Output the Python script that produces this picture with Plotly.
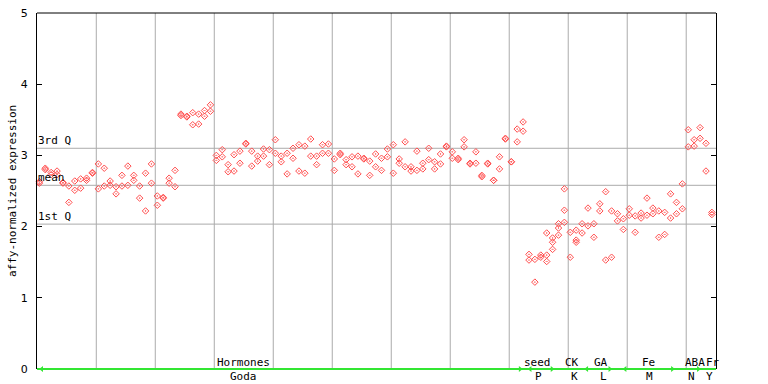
import plotly.graph_objects as go

# ---------------- data ----------------
values_a = [2.63, 2.82, 2.76, 2.78, 2.62, 2.57, 2.64, 2.67, 2.68, 2.76,
            2.88, 2.82, 2.64, 2.56, 2.72, 2.85, 2.72, 2.57, 2.75, 2.88,
            2.43, 2.41, 2.68, 2.79, 3.58, 3.55, 3.60, 3.58, 3.63, 3.71,
            3.00, 3.08, 2.87, 3.01, 3.06, 3.17, 3.06, 2.99, 3.09, 3.08,
            3.22, 2.99, 3.03, 3.10, 3.15, 3.13, 3.23, 2.99, 3.15, 3.16,
            2.95, 3.03, 2.94, 2.98, 2.99, 2.96, 2.92, 3.02, 2.96, 3.09,
            3.15, 2.95, 3.19, 2.84, 3.06, 2.89, 3.10, 2.91, 3.02, 3.13,
            3.05, 2.96, 3.22, 2.89, 3.05, 2.72, 2.89, 2.65, 2.98, 3.24,
            2.91, 3.37, 3.47, 1.61, 1.54, 1.60, 1.91, 1.84, 2.04, 2.53,
            1.92, 1.95, 2.04, 2.26, 2.04, 2.32, 2.49, 2.22, 2.18, 2.11,
            2.25, 2.15, 2.19, 2.40, 2.26, 2.22, 2.20, 2.46, 2.34, 2.60,
            3.36, 3.22, 3.39, 3.17, 2.20]
values_b = [2.61, 2.80, 2.73, 2.73, 2.61, 2.34, 2.51, 2.54, 2.65, 2.75,
            2.53, 2.57, 2.58, 2.46, 2.57, 2.58, 2.65, 2.40, 2.22, 2.61,
            2.30, 2.40, 2.61, 2.56, 3.56, 3.54, 3.43, 3.44, 3.55, 3.62,
            2.93, 2.98, 2.77, 2.78, 2.89, 3.16, 2.85, 2.92, 2.99, 2.87,
            3.03, 2.91, 2.74, 2.96, 2.78, 2.75, 2.99, 2.87, 3.03, 3.03,
            2.79, 3.01, 2.87, 2.84, 2.74, 2.95, 2.72, 2.84, 2.79, 2.98,
            2.75, 2.89, 2.84, 2.78, 2.79, 2.81, 2.94, 2.81, 2.88, 3.12,
            2.96, 2.94, 3.12, 2.88, 2.89, 2.70, 2.88, 2.65, 2.81, 3.23,
            2.91, 3.19, 3.34, 1.53, 1.22, 1.57, 1.51, 1.68, 1.88, 2.06,
            1.57, 1.78, 1.91, 2.01, 1.85, 2.22, 1.53, 1.57, 2.08, 1.96,
            2.16, 1.92, 2.12, 2.16, 2.18, 1.85, 1.89, 2.12, 2.18, 2.25,
            3.12, 3.13, 3.24, 2.78, 2.17]
extra_idx = [86, 87, 88, 89, 91]
extra_val = [1.60, 1.78, 1.98, 2.23, 1.81]

quartile_names = ["3rd Q", "mean", "1st Q"]
quartile_values = [3.10, 2.58, 2.035]

y_ticks = [0, 1, 2, 3, 4, 5]
group_top = ["Hormones", "seed", "CK", "GA", "Fe", "ABA", "Fr"]
group_bottom = ["Goda", "P", "K", "L", "M", "N", "Y"]

# ---------------- layout constants ----------------
top_label_x = [34.66, 84.4, 90.3, 95.2, 103.3, 111.2, 114.2]
bot_label_x = [34.66, 84.55, 90.7, 95.6, 103.5, 110.5, 113.6]
arrow_right_x = [81.5, 86.9, 96.7, 107.3, 111.7]
arrow_left_x = [0.4, 83.2, 92.8, 99.3]
grid_x = [9.65 + 10 * k for k in range(11)]
X_RANGE = [-0.4, 114.7]
FONT = "DejaVu Sans Mono"
RED = "#ff4d4d"
GRID = "#ababab"
GREEN = "#33e633"

n = len(values_a)
idx = list(range(n))

fig = go.Figure()
fig.add_trace(go.Scatter(
    x=idx + idx + extra_idx,
    y=values_a + values_b + extra_val,
    mode="markers",
    marker=dict(symbol="diamond-open-dot", size=5, color=RED,
                line=dict(width=1, color=RED)),
    showlegend=False, hoverinfo="skip", cliponaxis=False,
))
# invisible trace for right axis
fig.add_trace(go.Scatter(x=[0], y=[0], yaxis="y2", mode="markers",
                         marker=dict(opacity=0), showlegend=False,
                         hoverinfo="skip"))
# green arrows on bottom
fig.add_trace(go.Scatter(x=arrow_right_x, y=[0] * len(arrow_right_x),
                         mode="markers", cliponaxis=False,
                         marker=dict(symbol="triangle-right", size=5, color=GREEN),
                         showlegend=False, hoverinfo="skip"))
fig.add_trace(go.Scatter(x=arrow_left_x, y=[0] * len(arrow_left_x),
                         mode="markers", cliponaxis=False,
                         marker=dict(symbol="triangle-left", size=5, color=GREEN),
                         showlegend=False, hoverinfo="skip"))

shapes = []
for gx in grid_x:
    shapes.append(dict(type="line", xref="x", yref="paper", x0=gx, x1=gx,
                       y0=0, y1=1, line=dict(color=GRID, width=1), layer="below"))
for qv in quartile_values:
    shapes.append(dict(type="line", xref="paper", yref="y", x0=0, x1=1,
                       y0=qv, y1=qv, line=dict(color=GRID, width=1), layer="below"))
# frame
shapes.append(dict(type="line", xref="paper", yref="paper", x0=0, x1=1, y0=1, y1=1,
                   line=dict(color="black", width=1)))
shapes.append(dict(type="line", xref="paper", yref="paper", x0=0, x1=1, y0=0, y1=0,
                   line=dict(color=GREEN, width=2)))

annotations = []
for name, qv in zip(quartile_names, quartile_values):
    annotations.append(dict(x=0, xref="paper", y=qv, yref="y", text=name,
                            showarrow=False, xanchor="left", yanchor="bottom",
                            xshift=-1, yshift=-1,
                            font=dict(family=FONT, size=11, color="black")))
for t, xx in zip(group_top, top_label_x):
    annotations.append(dict(x=xx, xref="x", y=0, yref="y", text=t,
                            showarrow=False, xanchor="center", yanchor="middle",
                            yshift=7, font=dict(family=FONT, size=11, color="black")))
for t, xx in zip(group_bottom, bot_label_x):
    annotations.append(dict(x=xx, xref="x", y=0, yref="y", text=t,
                            showarrow=False, xanchor="center", yanchor="middle",
                            yshift=-7, font=dict(family=FONT, size=11, color="black")))
annotations.append(dict(x=-0.0368, xref="paper", y=0.5, yref="paper",
                        text="affy-normalized expression", textangle=-90,
                        showarrow=False, xanchor="center", yanchor="middle",
                        font=dict(family=FONT, size=11, color="black")))

fig.update_layout(
    width=768, height=384,
    margin=dict(l=37, r=52, t=13, b=15, pad=0, autoexpand=False),
    paper_bgcolor="white", plot_bgcolor="white",
    xaxis=dict(range=X_RANGE, showgrid=False, zeroline=False, showline=False,
               showticklabels=False, ticks="", automargin=False),
    yaxis=dict(range=[0, 5], tickvals=y_ticks, ticks="inside", ticklen=5,
               tickcolor="black", showgrid=False, zeroline=False,
               showline=True, linecolor="black", linewidth=1,
               ticklabelstandoff=6, automargin=False,
               tickfont=dict(family="DejaVu Sans", size=11, color="black")),
    yaxis2=dict(range=[0, 5], tickvals=y_ticks, ticks="inside", ticklen=5,
                tickcolor="black", overlaying="y", side="right",
                showgrid=False, zeroline=False, showticklabels=False,
                showline=True, linecolor="black", linewidth=1, automargin=False),
    shapes=shapes, annotations=annotations,
)

fig.write_html(
    "out.html",
    config={"displayModeBar": False},
    post_script="document.body.style.margin='0';document.body.style.overflow='hidden';",
)
